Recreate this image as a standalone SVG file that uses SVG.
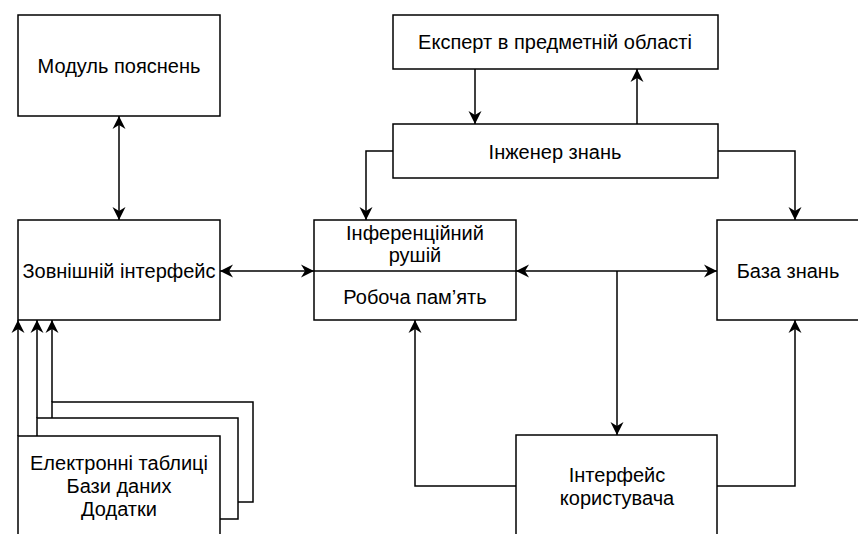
<svg xmlns="http://www.w3.org/2000/svg" width="858" height="534" viewBox="0 0 858 534">
  <style>
    .box { fill: #ffffff; stroke: #000000; stroke-width: 1.5; }
    .lbl { font-family: "Liberation Sans", Arial, Helvetica, sans-serif; font-size: 20px; fill: #000000; text-anchor: middle; }
    .edge { fill: none; stroke: #000000; stroke-width: 1.5; }
    .one { marker-end: url(#arrow); }
    .two { marker-start: url(#arrow); marker-end: url(#arrow); }
  </style>
  <defs>
    <marker id="arrow" markerUnits="userSpaceOnUse" markerWidth="16" markerHeight="16" refX="13" refY="7" orient="auto-start-reverse" viewBox="0 0 16 16">
      <path d="M0,0.5 L13,7 L0,13.5 L4,7 Z" fill="#000000"/>
    </marker>
  </defs>

  <rect width="858" height="534" fill="#ffffff"/>

  <!-- explanation module -->
  <g id="explanation-module">
    <rect class="box" x="18" y="15" width="202" height="101"/>
    <text class="lbl" x="119" y="72.5">Модуль пояснень</text>
  </g>

  <!-- external interface -->
  <g id="external-interface">
    <rect class="box" x="18" y="220" width="202" height="100"/>
    <text class="lbl" x="119" y="277.5">Зовнішній інтерфейс</text>
  </g>

  <!-- stacked external sources -->
  <g id="external-sources">
    <rect class="box" x="52" y="402" width="201" height="100"/>
    <rect class="box" x="37" y="418" width="201" height="101"/>
    <rect class="box" x="18" y="436" width="202" height="110"/>
    <text class="lbl" x="119" y="470">Електронні таблиці</text>
    <text class="lbl" x="119" y="493">Бази даних</text>
    <text class="lbl" x="119" y="516">Додатки</text>
  </g>

  <!-- domain expert -->
  <g id="domain-expert">
    <rect class="box" x="393" y="15" width="325" height="54"/>
    <text class="lbl" x="555" y="49">Експерт в предметній області</text>
  </g>

  <!-- knowledge engineer -->
  <g id="knowledge-engineer">
    <rect class="box" x="393" y="124" width="325" height="54"/>
    <text class="lbl" x="555" y="159">Інженер знань</text>
  </g>

  <!-- inference engine + working memory -->
  <g id="inference-engine">
    <rect class="box" x="314" y="220" width="202" height="100"/>
    <line class="edge" x1="314" y1="271" x2="516" y2="271"/>
    <text class="lbl" x="415" y="239.5">Інференційний</text>
    <text class="lbl" x="415" y="262">рушій</text>
    <text class="lbl" x="415" y="303.5">Робоча пам’ять</text>
  </g>

  <!-- knowledge base -->
  <g id="knowledge-base">
    <rect class="box" x="717" y="220" width="150" height="100"/>
    <text class="lbl" x="788" y="277.5">База знань</text>
  </g>

  <!-- user interface -->
  <g id="user-interface">
    <rect class="box" x="516" y="435" width="201" height="110"/>
    <text class="lbl" x="617" y="482">Інтерфейс</text>
    <text class="lbl" x="617" y="505">користувача</text>
  </g>

  <!-- connectors -->
  <g id="connectors">
    <path class="edge two" d="M119,116 L119,220"/>
    <path class="edge two" d="M220,271 L314,271"/>
    <path class="edge one" d="M475,69 L475,124"/>
    <path class="edge one" d="M637,124 L637,69"/>
    <path class="edge one" d="M393,151 L366,151 L366,220"/>
    <path class="edge one" d="M718,151 L795,151 L795,220"/>
    <path class="edge two" d="M516,271 L717,271"/>
    <path class="edge one" d="M617,271 L617,435"/>
    <path class="edge one" d="M516,486 L415,486 L415,320"/>
    <path class="edge one" d="M717,486 L795,486 L795,320"/>
    <path class="edge one" d="M18,436 L18,320"/>
    <path class="edge one" d="M37,418 L37,320"/>
    <path class="edge one" d="M52,402 L52,320"/>
  </g>
</svg>
